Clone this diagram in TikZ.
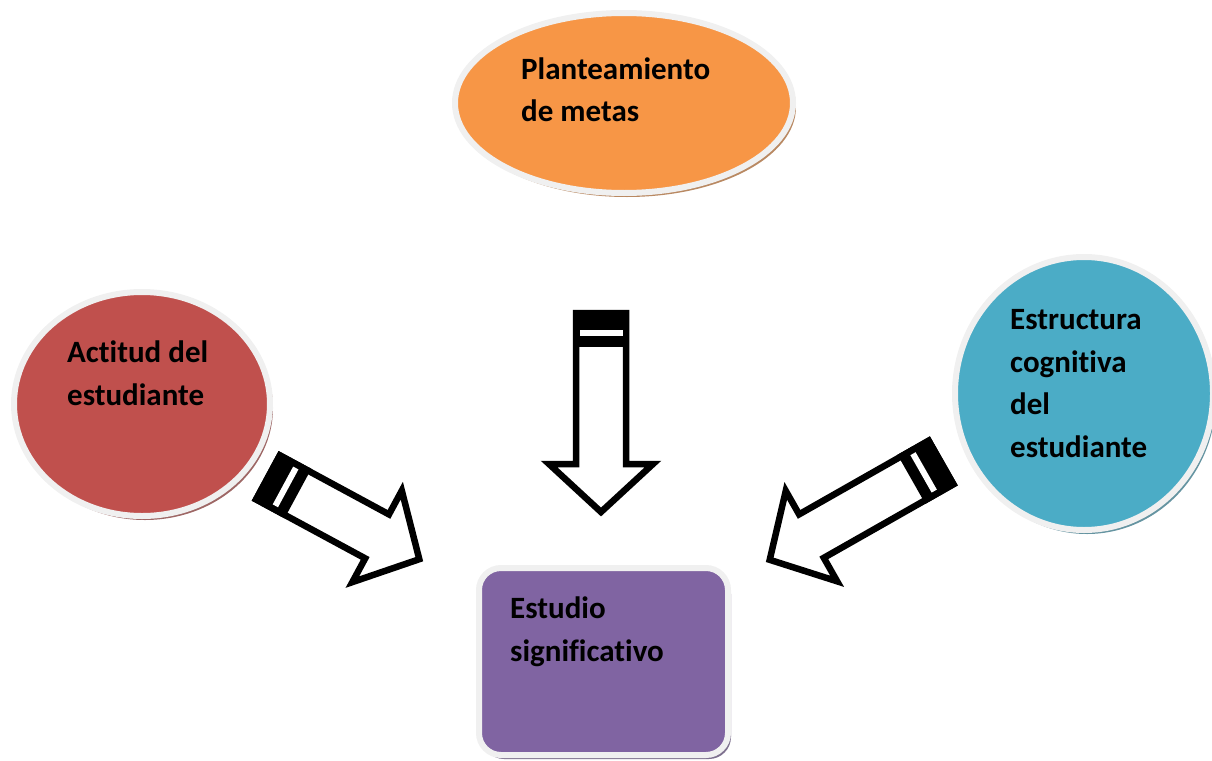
\documentclass[tikz,border=0pt]{standalone}
\usepackage{fontspec}
\setmainfont{Carlito}[Ligatures=NoCommon]
\usepackage{tikz}
\usetikzlibrary{shapes,shadows,positioning}

\definecolor{metaorange}{HTML}{F79646}
\definecolor{actred}{HTML}{C0504D}
\definecolor{cogteal}{HTML}{4BACC6}
\definecolor{estpurple}{HTML}{8064A2}
\definecolor{rimgray}{HTML}{F0F0F0}

\tikzset{
  blob/.style={draw=rimgray, line width=6pt, inner sep=0pt},
  blobshadow/.style={drop shadow={shadow xshift=3pt, shadow yshift=-4pt,
      fill=#1!65!black, opacity=.75}},
  blobtext/.style={anchor=base west, align=left, inner sep=0pt,
      font=\fontsize{31}{42.5}\selectfont\bfseries},
  pics/blockarrow/.style={code={
    \draw[line width=6.5pt, fill=white]
      (0,-25) -- (#1-48,-25) -- (#1-48,-52) -- (#1,0)
      -- (#1-48,52) -- (#1-48,25) -- (0,25) -- cycle;
    \fill (-3.25,-28.25) rectangle (34,28.25);
    \fill[white] (17,-21.5) rectangle (23,21.5);
  }},
}

\begin{document}
\begin{tikzpicture}[x=1pt, y=-1pt]
\useasboundingbox (0,0) rectangle (1212,760);

% shapes
\node[blob, blobshadow=metaorange, ellipse, fill=metaorange,
  minimum width=338pt, minimum height=180pt] (metas) at (624,103) {};
\node[blob, blobshadow=actred, ellipse, fill=actred,
  minimum width=256pt, minimum height=224pt] (actitud) at (142,404) {};
\node[blob, blobshadow=cogteal, ellipse, fill=cogteal,
  minimum width=258pt, minimum height=273pt] (estructura) at (1084,393.5) {};
\node[blob, blobshadow=estpurple, rectangle, rounded corners=22pt,
  fill=estpurple, minimum width=249pt, minimum height=187pt]
  (estudio) at (603.5,661.5) {};

% labels (anchored at the baseline of the last line)
\node[blobtext] (metas-t) at (521,121.5) {Planteamiento\\de metas};
\node[blobtext] (actitud-t) at (67,405) {Actitud del\\estudiante};
\node[blobtext] (estructura-t) at (1010,457)
  {Estructura\\cognitiva\\del\\estudiante};
\node[blobtext] (estudio-t) at (510,661) {Estudio\\significativo};

% arrows
\pic[rotate=-90] at (601,313) {blockarrow=199};
\pic[rotate=-28.4] at (268,477.4) {blockarrow=172};
\pic[rotate=-150.4] at (941,462.5) {blockarrow=197};
\end{tikzpicture}
\end{document}
